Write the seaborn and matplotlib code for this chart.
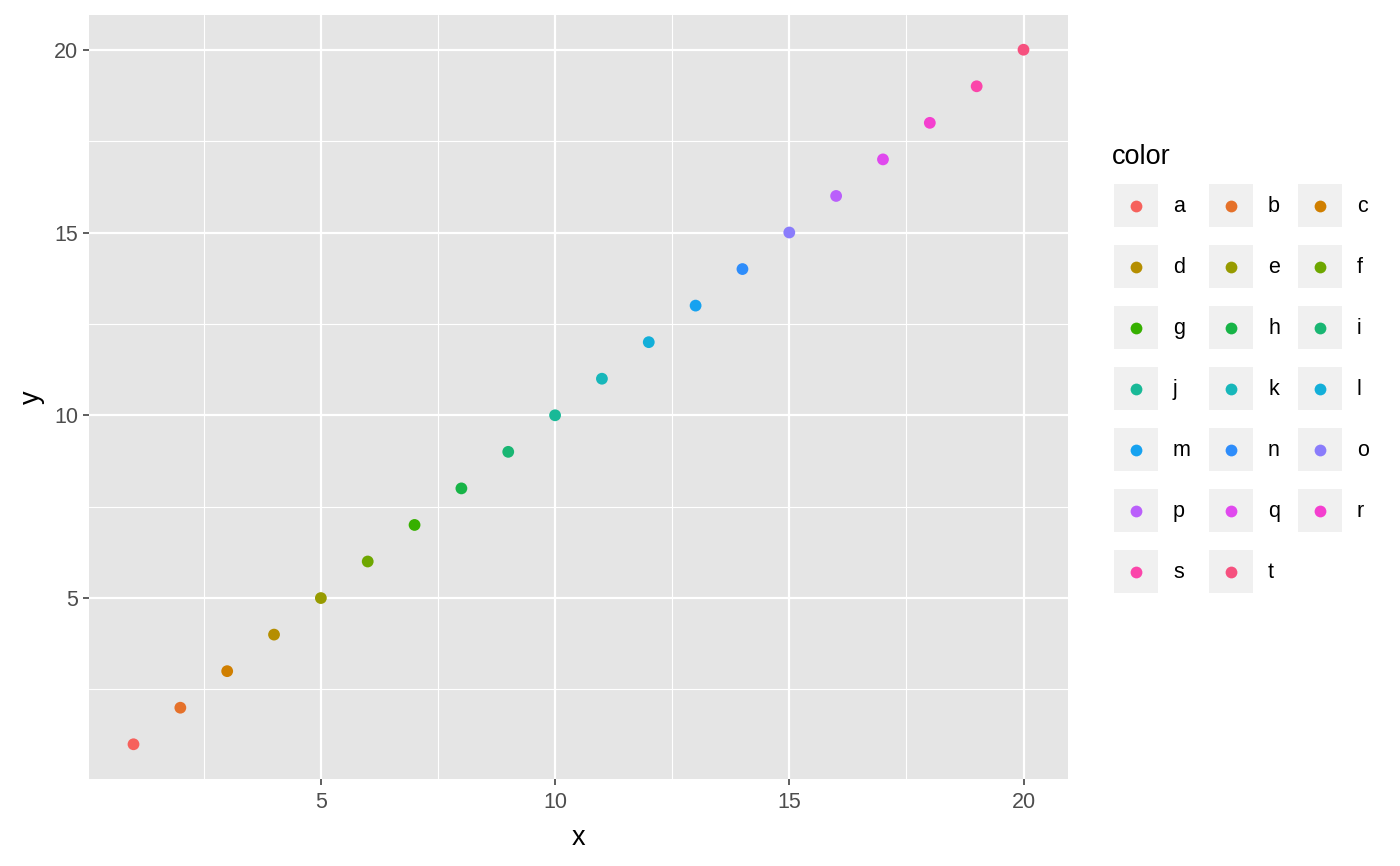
import matplotlib
matplotlib.use("Agg")
import matplotlib.pyplot as plt
from matplotlib.patches import Rectangle
import seaborn as sns
import pandas as pd

# data
x = list(range(1, 21))
y = list(range(1, 21))
color = list("abcdefghijklmnopqrst")
# hue palette, as it appears in the reference picture
palette = ["#F6615C", "#E5712A", "#D07F00", "#B58E00", "#979B00",
           "#6EA700", "#36B000", "#17B447", "#19B673", "#19B997",
           "#17B7BA", "#13AFD9", "#16A2F0", "#2E8DFB", "#8A7CFB",
           "#BA5FFB", "#E049EE", "#F43FCF", "#FB45AA", "#F6517F"]

df = pd.DataFrame({"x": x, "y": y, "color": color})

sns.set_theme(style="white")
plt.rcParams["font.family"] = ["Liberation Sans", "DejaVu Sans"]

W, H = 1400, 866
fig = plt.figure(figsize=(14, 8.66), dpi=100)
ax = fig.add_axes([89 / W, 1 - 779 / H, (1068 - 89) / W, (779 - 15) / H])
ax.set_facecolor("#E5E5E5")

sns.scatterplot(data=df, x="x", y="y", hue="color", palette=palette,
                s=72, linewidth=0, legend=False, ax=ax, zorder=3)

ax.set_xlim(0.05, 20.95)
ax.set_ylim(0.05, 20.95)
ticks = [5, 10, 15, 20]
minor = [2.5, 7.5, 12.5, 17.5]
ax.set_xticks(ticks)
ax.set_yticks(ticks)
ax.set_xticks(minor, minor=True)
ax.set_yticks(minor, minor=True)
ax.grid(which="major", color="white", linewidth=1.6, zorder=1)
ax.grid(which="minor", color="white", linewidth=0.8, zorder=1)
ax.set_axisbelow(True)
for s in ax.spines.values():
    s.set_visible(False)
ax.tick_params(which="major", length=4, width=1.1, color="#333333",
               labelsize=15.5, labelcolor="#4D4D4D",
               bottom=True, left=True)
ax.tick_params(axis="x", which="major", pad=5)
ax.tick_params(axis="y", which="major", pad=4)
ax.tick_params(which="minor", length=0)
ax.set_xlabel("x", fontsize=19.5, color="black", labelpad=9)
ax.set_ylabel("y", fontsize=19.5, color="black", labelpad=6)

# legend drawn by hand, ggplot style
lax = fig.add_axes([0, 0, 1, 1], facecolor="none")
lax.set_xlim(0, W)
lax.set_ylim(H, 0)
lax.axis("off")
lax.text(1112, 157, "color", fontsize=19.5, color="black",
         va="center", ha="left")
key_left = [1114, 1209, 1298]
for i, (lab, col) in enumerate(zip(color, palette)):
    r, c = divmod(i, 3)
    cy = 205.5 + 61 * r
    kx = key_left[c]
    lax.add_patch(Rectangle((kx, cy - 21.5), 43.5, 43, facecolor="#F0F0F0",
                            edgecolor="none"))
    lax.scatter([kx + 21.75], [cy], s=72, color=col, linewidth=0)
    lax.text(kx + 59, cy + 1, lab, fontsize=15.5, color="black",
             va="center", ha="left")

fig.savefig("out.png", dpi=100)
